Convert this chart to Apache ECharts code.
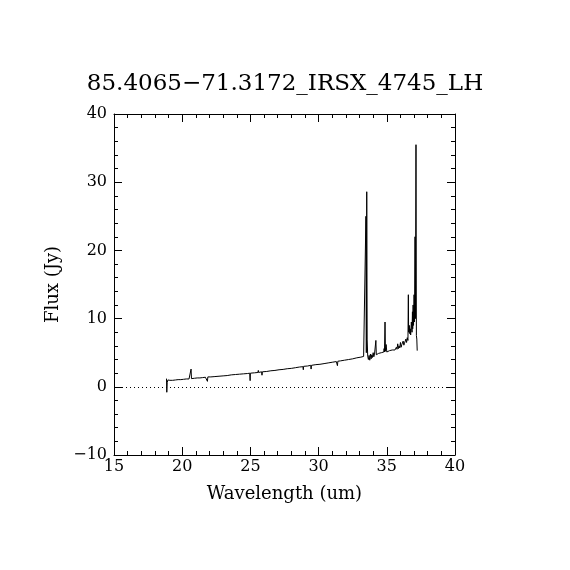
<!DOCTYPE html>
<html>
<head>
<meta charset="utf-8">
<style>
    html, body { margin: 0; padding: 0; background: #fff; }
</style>
</head>
<body>
<div id="main" style="width: 570px;height:570px;"></div>
<script type="text/javascript" src="https://cdn.jsdelivr.net/npm/echarts@6/dist/echarts.min.js"></script>
<script>
    // 谱数据 (um, Jy)
    var wavelength = [
        18.85, 18.87, 18.9, 18.95, 19.0, 19.1, 19.3, 19.5, 19.7, 19.9,
        20.1, 20.3, 20.5, 20.62, 20.65, 20.68, 20.9, 21.1, 21.3, 21.5,
        21.7, 21.82, 21.85, 21.88, 22.1, 22.4, 22.7, 23.0, 23.3, 23.6,
        23.9, 24.2, 24.5, 24.8, 24.95, 24.98, 25.0, 25.3, 25.55, 25.58,
        25.6, 25.82, 25.85, 25.88, 26.2, 26.5, 26.8, 27.1, 27.4, 27.7, 28.0, 28.3,
        28.6, 28.85, 28.88, 28.9, 29.2, 29.42, 29.45, 29.48, 29.8, 30.1, 30.4, 30.7,
        31.0, 31.3, 31.38, 31.41, 31.6, 31.9, 32.2, 32.5, 32.8, 33.1, 33.3, 33.42,
        33.45, 33.47, 33.5, 33.53, 33.56, 33.6, 33.65, 33.7, 33.75, 33.8,
        33.85, 33.9, 33.95, 34.0, 34.05, 34.1, 34.15, 34.2, 34.23, 34.3,
        34.4, 34.5, 34.6, 34.7, 34.78, 34.8, 34.83, 34.87, 34.9, 34.95,
        35.0, 35.1, 35.2, 35.3, 35.4, 35.5, 35.6, 35.7, 35.75, 35.8,
        35.85, 35.9, 35.95, 36.0, 36.05, 36.1, 36.15, 36.2, 36.25, 36.3,
        36.35, 36.4, 36.45, 36.5, 36.55, 36.58, 36.6, 36.65, 36.68, 36.72,
        36.75, 36.8, 36.85, 36.88, 36.9, 36.93, 36.96, 37.0, 37.03, 37.07,
        37.1, 37.14, 37.17, 37.2, 37.23
    ];
    var flux = [
        1.2, -0.8, 0.6, 1.0, 0.8, 0.95, 0.95, 1.0, 1.05, 1.05,
        1.1, 1.15, 1.15, 1.2, 2.6, 1.2, 1.25, 1.3, 1.3, 1.35,
        1.4, 1.4, 0.8, 1.45, 1.45, 1.5, 1.55, 1.6, 1.65, 1.75,
        1.8, 1.85, 1.9, 1.95, 2.0, 0.9, 2.0, 2.05, 2.1, 2.4,
        2.1, 2.2, 1.7, 2.2, 2.25, 2.35, 2.4, 2.5, 2.55, 2.65, 2.7, 2.8,
        2.9, 2.95, 2.5, 3.0, 3.05, 3.15, 2.6, 3.15, 3.25, 3.3, 3.4, 3.5,
        3.6, 3.7, 3.1, 3.75, 3.8, 3.9, 4.0, 4.1, 4.25, 4.35, 4.45, 4.5,
        4.5, 25.0, 5.0, 28.6, 7.0, 4.5, 4.0, 4.6, 3.9, 4.8,
        4.1, 4.7, 4.3, 5.0, 4.4, 4.8, 4.6, 6.8, 4.7, 4.8,
        4.9, 4.9, 5.0, 5.0, 5.1, 5.6, 5.1, 9.5, 5.2, 6.2,
        5.1, 5.2, 5.3, 5.2, 5.4, 5.5, 5.4, 5.8, 5.5, 6.3,
        5.6, 6.0, 5.7, 6.5, 5.8, 6.2, 6.0, 6.7, 6.1, 6.4,
        6.3, 7.0, 6.5, 7.2, 6.8, 13.5, 8.0, 9.0, 7.8, 8.5,
        7.6, 9.5, 8.0, 11.0, 8.5, 12.0, 9.0, 13.5, 9.5, 22.0,
        10.0, 35.5, 7.5, 7.0, 5.3
    ];
    var xTicks = [15, 40, 5];
    var yTicks = [-10, 40, 10];

    var spectrum = wavelength.map(function (w, i) { return [w, flux[i]]; });

    var myChart = echarts.init(document.getElementById('main'));
    var fnt = 'DejaVu Serif';

    function fmtNum(v) {
        return String(v).replace('-', '\u2212');
    }

    var tickX = {
        type: 'value', min: xTicks[0], max: xTicks[1], interval: xTicks[2],
        axisLine: {show: true, onZero: false, lineStyle: {color: '#000', width: 1}},
        axisTick: {show: true, inside: true, length: 8, lineStyle: {color: '#000'}},
        minorTick: {show: true, splitNumber: 5, length: 4, lineStyle: {color: '#000'}},
        splitLine: {show: false}
    };
    var tickY = {
        type: 'value', min: yTicks[0], max: yTicks[1], interval: yTicks[2],
        axisLine: {show: true, onZero: false, lineStyle: {color: '#000', width: 1}},
        axisTick: {show: true, inside: true, length: 8, lineStyle: {color: '#000'}},
        minorTick: {show: true, splitNumber: 5, length: 4, lineStyle: {color: '#000'}},
        splitLine: {show: false}
    };

    var option = {
        backgroundColor: '#FFFFFF',
        animation: false,
        title: {
            text: '85.4065\u221271.3172_IRSX_4745_LH',
            left: 'center',
            top: 68,
            textStyle: {color: '#000', fontFamily: fnt, fontWeight: 'normal', fontSize: 23}
        },
        grid: {left: 114, right: 115, top: 114, bottom: 115, show: false},
        xAxis: [
            Object.assign({}, tickX, {
                position: 'bottom',
                name: 'Wavelength (um)',
                nameLocation: 'middle',
                nameGap: 30,
                nameTextStyle: {color: '#000', fontFamily: fnt, fontSize: 18},
                axisLabel: {color: '#000', fontFamily: fnt, fontSize: 16, margin: 4, formatter: fmtNum}
            }),
            Object.assign({}, tickX, {position: 'top', axisLabel: {show: false}})
        ],
        yAxis: [
            Object.assign({}, tickY, {
                position: 'left',
                name: 'Flux (Jy)',
                nameLocation: 'middle',
                nameGap: 52,
                nameTextStyle: {color: '#000', fontFamily: fnt, fontSize: 18},
                axisLabel: {color: '#000', fontFamily: fnt, fontSize: 16, margin: 7, formatter: fmtNum}
            }),
            Object.assign({}, tickY, {position: 'right', axisLabel: {show: false}})
        ],
        series: [
            {
                type: 'line',
                data: spectrum,
                showSymbol: false,
                lineStyle: {color: '#000', width: 1},
                markLine: {
                    silent: true,
                    symbol: 'none',
                    label: {show: false},
                    lineStyle: {color: '#000', type: [1, 3], width: 1},
                    data: [{yAxis: 0}]
                }
            }
        ]
    };

    myChart.setOption(option);
</script>
</body>
</html>
